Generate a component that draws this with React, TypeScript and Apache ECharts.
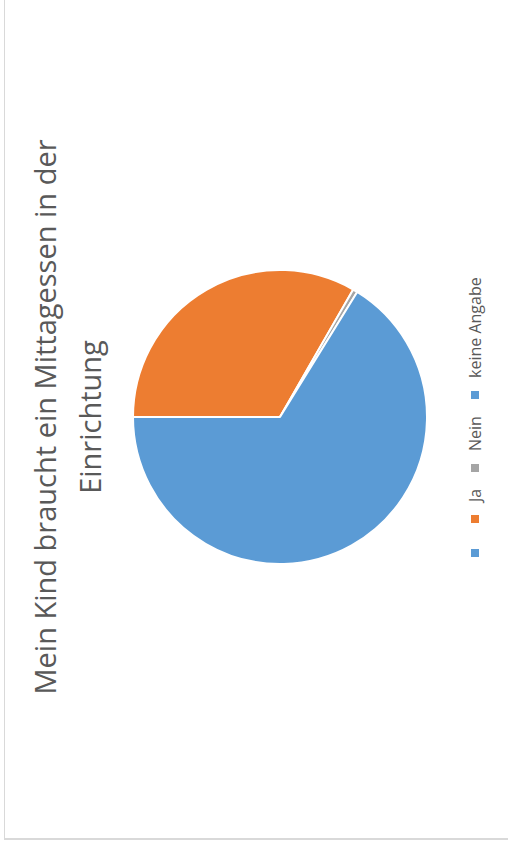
import React, { useEffect, useRef } from "react";
import * as echarts from "echarts";

// ---- data ----
const categories: string[] = ["", "Ja", "Nein", "keine Angabe"];
const values: number[] = [0, 33.3, 0.5, 66.2];
const titleLines: string[] = ["Mein Kind braucht ein Mittagessen in der", "Einrichtung"];

// ---- style / layout ----
const colors = ["#5B9BD5", "#ED7D31", "#A5A5A5", "#5B9BD5"];
const legendSquareY = [553, 519, 468, 395];
const legendX = 475;
const TEXT_COLOR = "#595959";
const TITLE_FONT = '29px "Open Sans", "Noto Sans", sans-serif';
const LEGEND_FONT = '16px "Open Sans", "Noto Sans", sans-serif';

export default function App() {
  const ref = useRef<HTMLDivElement>(null);
  useEffect(() => {
    if (!ref.current) return;
    const chart = echarts.init(ref.current, undefined, { renderer: "svg" });

    const graphics: any[] = [];
    // chart frame (left and bottom edges visible)
    graphics.push({
      type: "line",
      shape: { x1: 4.5, y1: 0, x2: 4.5, y2: 840 },
      style: { stroke: "#D9D9D9", lineWidth: 1 },
      silent: true,
    });
    graphics.push({
      type: "line",
      shape: { x1: 4, y1: 839, x2: 508, y2: 839 },
      style: { stroke: "#D9D9D9", lineWidth: 2 },
      silent: true,
    });
    // rotated title
    const titleX = [44, 89];
    titleLines.forEach((t, i) => {
      graphics.push({
        type: "text",
        x: titleX[i],
        y: 417,
        rotation: Math.PI / 2,
        style: {
          text: t,
          font: TITLE_FONT,
          fill: TEXT_COLOR,
          align: "center",
          verticalAlign: "middle",
        },
      });
    });
    // rotated legend
    categories.forEach((c, i) => {
      const y = legendSquareY[i];
      graphics.push({
        type: "rect",
        x: legendX,
        y: y,
        shape: { x: -4, y: -4, width: 8, height: 8 },
        style: { fill: colors[i] },
      });
      graphics.push({
        type: "text",
        x: legendX,
        y: y - 17,
        rotation: Math.PI / 2,
        style: {
          text: c,
          font: LEGEND_FONT,
          fill: TEXT_COLOR,
          align: "left",
          verticalAlign: "middle",
        },
      });
    });

    chart.setOption({
      animation: false,
      backgroundColor: "#FFFFFF",
      color: colors,
      graphic: graphics,
      series: [
        {
          type: "pie",
          center: [280, 417],
          radius: 147,
          startAngle: 180,
          clockwise: true,
          label: { show: false },
          labelLine: { show: false },
          silent: true,
          itemStyle: { borderColor: "#FFFFFF", borderWidth: 2 },
          data: categories.map((c, i) => ({
            name: c,
            value: values[i],
            itemStyle: { color: colors[i] },
          })),
        },
      ],
    });
    return () => chart.dispose();
  }, []);
  return (
    <div
      ref={ref}
      style={{ position: "fixed", left: 0, top: 0, width: 508, height: 845 }}
    />
  );
}
